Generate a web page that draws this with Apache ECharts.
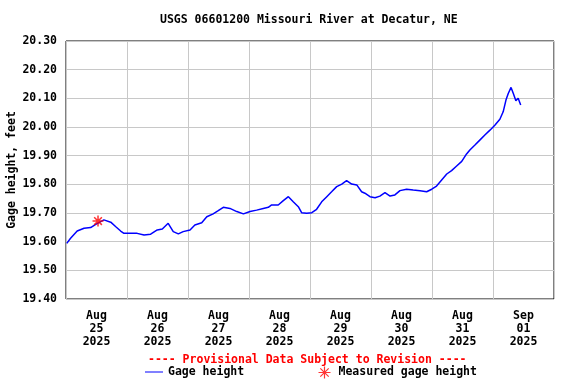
<!DOCTYPE html>
<html>
<head>
<meta charset="utf-8">
<script src="https://cdn.jsdelivr.net/npm/echarts@6/dist/echarts.min.js"></script>
<style>html,body{margin:0;padding:0;background:#fff;}#c{width:576px;height:384px;}</style>
</head>
<body>
<div id="c"></div>
<script>
// hours since 2025-08-25 00:00
var hours = [0.3,1.8,4.4,7.1,9.7,11.7,14.9,17.6,19.6,21.5,22.8,25.5,28.0,30.7,33.3,35.9,37.9,40.2,42.2,44.2,46.1,48.8,50.7,53.4,55.4,57.9,59.9,61.9,64.5,67.2,69.8,72.4,75.0,77.6,79.6,80.9,83.5,85.5,87.5,89.4,91.4,92.7,94.7,96.7,98.6,100.6,102.6,104.5,106.5,108.5,110.4,112.4,114.4,116.3,117.6,119.6,121.6,123.5,125.5,127.5,129.4,131.4,134.0,136.6,139.3,141.9,143.9,145.8,147.8,149.8,151.7,153.7,155.7,157.6,158.9,160.9,162.9,164.8,166.8,168.8,170.7,172.0,173.1,174.0,175.1,176.0,177.0,177.9,178.9];
var gage = [19.594,19.612,19.637,19.647,19.649,19.660,19.676,19.668,19.652,19.637,19.629,19.629,19.629,19.623,19.626,19.641,19.644,19.664,19.635,19.627,19.635,19.641,19.658,19.666,19.687,19.697,19.708,19.720,19.716,19.705,19.697,19.705,19.710,19.716,19.720,19.728,19.728,19.743,19.757,19.739,19.722,19.701,19.699,19.701,19.713,19.739,19.757,19.774,19.792,19.801,19.813,19.801,19.798,19.774,19.769,19.757,19.753,19.759,19.771,19.759,19.763,19.778,19.783,19.780,19.778,19.774,19.783,19.794,19.815,19.836,19.848,19.864,19.880,19.906,19.920,19.937,19.955,19.972,19.989,20.007,20.027,20.053,20.094,20.117,20.138,20.117,20.092,20.100,20.077];
var measuredHours = [12.6];
var measuredGage = [19.672];
var dayLabels = ['Aug\n25\n2025','Aug\n26\n2025','Aug\n27\n2025','Aug\n28\n2025','Aug\n29\n2025','Aug\n30\n2025','Aug\n31\n2025','Sep\n01\n2025'];
var yTicks = {min: 19.4, max: 20.3, interval: 0.1};

var FONT = '"DejaVu Sans Mono", monospace';
var line = hours.map(function(h, i){ return [h, gage[i]]; });
var meas = measuredHours.map(function(h, i){ return [h, measuredGage[i]]; });
var star = 'path://M0,-10L0,10M-10,0L10,0M-7,-7L7,7M-7,7L7,-7';
var dash = 'path://M0,0L18,0L18,1L0,1Z';
var txt = {fontFamily: FONT, fontSize: 11.5, fontWeight: 'bold', color: '#000'};

var chart = echarts.init(document.getElementById('c'), null, {renderer: 'canvas'});
chart.setOption({
  animation: false,
  backgroundColor: '#fff',
  title: {
    text: 'USGS 06601200 Missouri River at Decatur, NE',
    left: 155, top: 9,
    textStyle: txt
  },
  grid: {left: 66, right: 22, top: 41, bottom: 85, containLabel: false, outerBoundsMode: 'none',
         show: true, borderColor: '#000', borderWidth: 1, backgroundColor: 'transparent'},
  xAxis: [
    {type: 'value', min: 0, max: 192, interval: 24,
     axisLine: {show: false}, axisTick: {show: false}, axisLabel: {show: false},
     splitLine: {show: true, lineStyle: {color: '#c8c8c8', width: 1}}},
    {type: 'category', data: dayLabels, boundaryGap: true, position: 'bottom',
     axisLine: {show: false}, axisTick: {show: false}, splitLine: {show: false},
     axisLabel: Object.assign({margin: 11, lineHeight: 13, interval: 0}, txt)}
  ],
  yAxis: {
    type: 'value', min: yTicks.min, max: yTicks.max, interval: yTicks.interval,
    name: 'Gage height, feet', nameLocation: 'middle', nameGap: 48, nameRotate: 90,
    nameMoveOverlap: false,
    nameTextStyle: txt,
    axisLine: {show: false}, axisTick: {show: false},
    axisLabel: Object.assign({margin: 9, formatter: function(v){ return v.toFixed(2); }}, txt),
    splitLine: {show: true, lineStyle: {color: '#c8c8c8', width: 1}}
  },
  legend: [
    {data: [{name: 'Gage height', icon: dash}], left: 145, top: 366, padding: 0, itemWidth: 18, itemHeight: 12, itemGap: 6,
     symbolKeepAspect: true,
     itemStyle: {color: '#0000ff'},
     textStyle: txt},
    {data: [{name: 'Measured gage height', icon: star}], left: 316, top: 364, padding: 0, itemWidth: 18, itemHeight: 12, itemGap: 6,
     symbolKeepAspect: true,
     itemStyle: {color: 'none', borderColor: '#ff0000', borderWidth: 1.2},
     textStyle: txt}
  ],
  graphic: [
    {type: 'text', left: 148, top: 354,
     style: {text: '---- Provisional Data Subject to Revision ----', fill: '#ff0000',
       font: 'bold 11.5px ' + FONT}}
  ],
  series: [
    {name: 'Gage height', type: 'line', xAxisIndex: 0, data: line, showSymbol: false, symbol: 'none',
     lineStyle: {color: '#0000ff', width: 1.5}, itemStyle: {color: '#0000ff'}},
    {name: 'Measured gage height', type: 'scatter', xAxisIndex: 0, data: meas, symbol: star, symbolSize: 11,
     itemStyle: {color: 'none', borderColor: '#ff0000', borderWidth: 1.5}, z: 5}
  ]
});
</script>
</body>
</html>
